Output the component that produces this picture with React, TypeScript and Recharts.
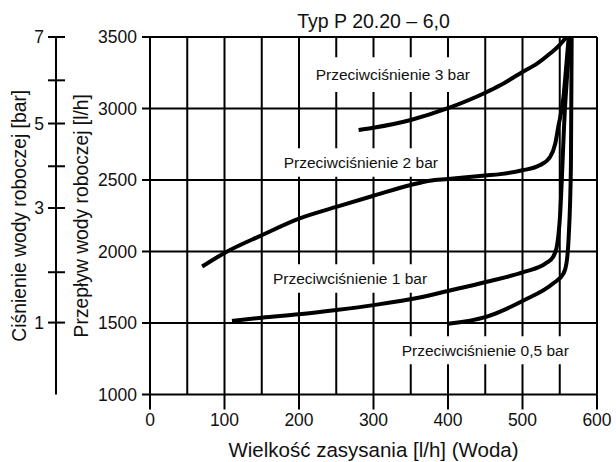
import React from 'react';
import { LineChart, Line, XAxis, YAxis, CartesianGrid, ReferenceArea, Customized } from 'recharts';

// suction (l/h) on x, working water flow (l/h) on y
const bar3Suction = [280, 300, 350, 400, 450, 470, 500, 520, 537, 550, 559];
const bar3Flow = [2850, 2866, 2920, 3002, 3110, 3162, 3255, 3315, 3384, 3445, 3500];

const bar2Suction = [70, 100, 150, 200, 250, 300, 350, 375, 400, 450, 470, 500, 523, 537, 544, 548, 555, 559, 562];
const bar2Flow = [1895, 1990, 2114, 2230, 2312, 2390, 2465, 2495, 2507, 2532, 2541, 2568, 2603, 2661, 2755, 2871, 3080, 3314, 3500];

const bar1Suction = [110, 150, 200, 250, 300, 362, 400, 451, 502, 532, 541, 546, 550, 557, 564];
const bar1Flow = [1514, 1537, 1561, 1591, 1625, 1678, 1724, 1787, 1857, 1920, 1962, 2032, 2219, 3000, 3500];

const bar05Suction = [400, 451, 502, 541, 555, 559, 562, 565, 566];
const bar05Flow = [1495, 1543, 1659, 1776, 1846, 1916, 2102, 2600, 3500];

const xTicks = [0, 100, 200, 300, 400, 500, 600];
const xGrid = [50, 100, 150, 200, 250, 300, 350, 400, 450, 500, 550, 600];
const flowTicks = [1000, 1500, 2000, 2500, 3000, 3500];
const flowGrid = [1500, 2000, 2500, 3000, 3500];

// pressure scale on the far left, placed against the flow scale
const pressureLabels = ['1', '', '3', '', '5', '', '7'];
const pressureTickFlow = [1503, 1855, 2304, 2596, 2895, 3197, 3500];

const zip = (xs: number[], ys: number[]) => xs.map((x, i) => ({ x, y: ys[i] }));

const series = [
  { name: '3 bar', data: zip(bar3Suction, bar3Flow) },
  { name: '2 bar', data: zip(bar2Suction, bar2Flow) },
  { name: '1 bar', data: zip(bar1Suction, bar1Flow) },
  { name: '0,5 bar', data: zip(bar05Suction, bar05Flow) },
];

const FONT = '"Liberation Sans", Arial, Helvetica, sans-serif';
const INK = '#111';

const PressureTick = (props: any) => {
  const { x, y, payload } = props;
  const i = pressureTickFlow.indexOf(payload.value);
  return (
    <g>
      <line x1={x - 8} x2={x + 9} y1={y} y2={y} stroke="#000" strokeWidth={2} />
      <text x={x - 12} y={y} dy={6} textAnchor="end" fontSize={17.5} fill={INK}>
        {pressureLabels[i]}
      </text>
    </g>
  );
};

const Title = () => (
  <text x={373.5} y={28} textAnchor="middle" fontSize={19.5} fill={INK}>
    Typ P 20.20 – 6,0
  </text>
);

const boxLabel = (value: string) => ({
  value,
  position: 'center' as const,
  fontSize: 15.5,
  fill: INK,
});

const App = () => {
  return (
    <div style={{ position: 'absolute', left: 0, top: 0, fontFamily: FONT }}>
      <LineChart width={616} height={462} margin={{ top: 37, right: 19, bottom: 0, left: 0 }}>
        <CartesianGrid
          yAxisId="flow"
          stroke="#000"
          strokeWidth={2}
          horizontalValues={flowGrid}
          verticalValues={xGrid}
        />
        <XAxis
          type="number"
          dataKey="x"
          domain={[0, 600]}
          ticks={xTicks}
          interval={0}
          allowDataOverflow
          height={67.5}
          tickSize={15}
          tickMargin={4}
          axisLine={{ stroke: '#000', strokeWidth: 2 }}
          tickLine={{ stroke: '#000', strokeWidth: 2 }}
          tick={{ fill: INK, fontSize: 17.5 }}
          label={{ value: 'Wielkość zasysania [l/h] (Woda)', position: 'insideBottom', offset: 5, fontSize: 20.5, fill: INK }}
        />
        <YAxis
          yAxisId="flow"
          type="number"
          domain={[1000, 3500]}
          ticks={flowTicks}
          interval={0}
          allowDataOverflow
          width={94}
          tickSize={8}
          tickMargin={5}
          axisLine={{ stroke: '#000', strokeWidth: 2 }}
          tickLine={{ stroke: '#000', strokeWidth: 2 }}
          tick={{ fill: INK, fontSize: 17.5 }}
          label={{
            value: 'Przepływ wody roboczej [l/h]',
            angle: -90,
            position: 'insideLeft',
            offset: 25,
            fontSize: 19.3,
            fill: INK,
            style: { textAnchor: 'middle' },
          }}
        />
        <YAxis
          yAxisId="p"
          type="number"
          domain={[1000, 3500]}
          ticks={pressureTickFlow}
          interval={0}
          allowDataOverflow
          width={56}
          tickSize={0}
          tickMargin={0}
          tickLine={false}
          axisLine={{ stroke: '#000', strokeWidth: 2 }}
          tick={<PressureTick />}
          label={{
            value: 'Ciśnienie wody roboczej [bar]',
            angle: -90,
            position: 'insideLeft',
            offset: 19,
            fontSize: 19.3,
            fill: INK,
            style: { textAnchor: 'middle' },
          }}
        />
        <ReferenceArea yAxisId="flow" x1={208} x2={444} y1={3116} y2={3358} fill="#fff" fillOpacity={1} stroke="none" label={boxLabel('Przeciwciśnienie 3 bar')} />
        <ReferenceArea yAxisId="flow" x1={169} x2={397} y1={2522} y2={2722} fill="#fff" fillOpacity={1} stroke="none" label={boxLabel('Przeciwciśnienie 2 bar')} />
        <ReferenceArea yAxisId="flow" x1={156} x2={381} y1={1711} y2={1911} fill="#fff" fillOpacity={1} stroke="none" label={boxLabel('Przeciwciśnienie 1 bar')} />
        <ReferenceArea yAxisId="flow" x1={324} x2={576} y1={1212} y2={1408} fill="#fff" fillOpacity={1} stroke="none" label={boxLabel('Przeciwciśnienie 0,5 bar')} />
        {series.map((s) => (
          <Line
            key={s.name}
            yAxisId="flow"
            data={s.data}
            dataKey="y"
            name={s.name}
            type="monotone"
            stroke="#000"
            strokeWidth={4}
            dot={false}
            activeDot={false}
            isAnimationActive={false}
          />
        ))}
        <Customized component={Title} />
      </LineChart>
    </div>
  );
};

export default App;
